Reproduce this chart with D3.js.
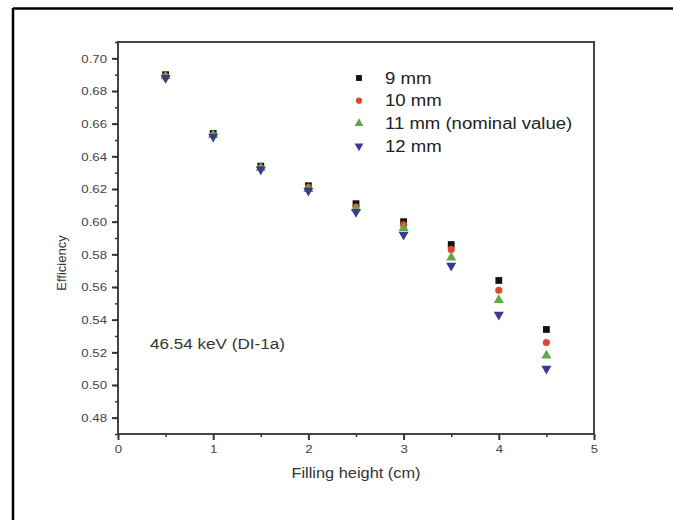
<!DOCTYPE html>
<html><head><meta charset="utf-8">
<script src="https://cdn.jsdelivr.net/npm/d3@7"></script>
<style>body{margin:0;background:#fff}svg{display:block}</style>
</head><body><svg id="c" width="673" height="520"></svg>
<script>
const xValues = [0.5, 1.0, 1.5, 2.0, 2.5, 3.0, 3.5, 4.0, 4.5];
const s9mm  = [0.690, 0.654, 0.634, 0.622, 0.611, 0.600, 0.586, 0.564, 0.534];
const s10mm = [0.689, 0.653, 0.633, 0.621, 0.609, 0.598, 0.583, 0.558, 0.526];
const s11mm = [0.689, 0.653, 0.633, 0.620, 0.608, 0.596, 0.578, 0.552, 0.518];
const s12mm = [0.688, 0.652, 0.632, 0.619, 0.606, 0.592, 0.573, 0.543, 0.510];
const seriesNames = ["9 mm", "10 mm", "11 mm (nominal value)", "12 mm"];
const xTicks = [0, 1, 2, 3, 4, 5];
const yTicks = [0.48, 0.50, 0.52, 0.54, 0.56, 0.58, 0.60, 0.62, 0.64, 0.66, 0.68, 0.70];
const annotation = "46.54 keV (DI-1a)";
const xTitle = "Filling height (cm)";
const yTitle = "Efficiency";

const series = [
  {name: seriesNames[0], values: s9mm,  color: "#111111", symbol: d3.symbolSquare, rot: 0},
  {name: seriesNames[1], values: s10mm, color: "#e2452f", symbol: d3.symbolCircle, rot: 0},
  {name: seriesNames[2], values: s11mm, color: "#5caa45", symbol: d3.symbolTriangle, rot: 0},
  {name: seriesNames[3], values: s12mm, color: "#40388f", symbol: d3.symbolTriangle, rot: 180}
];
const sizes = [46, 40, 44, 44];

const svg = d3.select("#c");
const font = "Liberation Sans, Arial, sans-serif";

// horizontally stretched text helper
function htext(parent, px, py, sx, size, anchor, str, fill) {
  return parent.append("text")
    .attr("transform", `translate(${px},${py}) scale(${sx},1)`)
    .attr("text-anchor", anchor)
    .attr("font-family", font).attr("font-size", size).attr("fill", fill).text(str);
}

// outer frame (top and left)
svg.append("line").attr("x1", 13).attr("x2", 673).attr("y1", 8.5).attr("y2", 8.5).attr("stroke", "#000").attr("stroke-width", 2.5);
svg.append("line").attr("x1", 13).attr("x2", 13).attr("y1", 8).attr("y2", 520).attr("stroke", "#000").attr("stroke-width", 2.5);

const L = 118, R = 594, T = 42, B = 434;
const x = d3.scaleLinear().domain([0, 5]).range([L, R]);
const y = d3.scaleLinear().domain([0.47, 0.71]).range([B, T]);

// plot box
svg.append("rect").attr("x", L).attr("y", T).attr("width", R - L).attr("height", B - T)
  .attr("fill", "none").attr("stroke", "#444").attr("stroke-width", 2);

// minor ticks
const yMinor = d3.range(0.47, 0.7101, 0.01).map(v => +v.toFixed(2));
svg.append("g").attr("transform", `translate(${L},0)`)
  .call(d3.axisLeft(y).tickValues(yMinor).tickSize(3).tickFormat(""))
  .call(g => g.select(".domain").remove())
  .call(g => g.selectAll("line").attr("stroke", "#333").attr("stroke-width", 1.5));
svg.append("g").attr("transform", `translate(0,${B})`)
  .call(d3.axisBottom(x).tickValues([0.5, 1.5, 2.5, 3.5, 4.5]).tickSize(3).tickFormat(""))
  .call(g => g.select(".domain").remove())
  .call(g => g.selectAll("line").attr("stroke", "#333").attr("stroke-width", 1.5));

// major ticks
const tsx = 1.15;
svg.append("g").attr("transform", `translate(${L},0)`)
  .call(d3.axisLeft(y).tickValues(yTicks).tickSize(6).tickPadding(4).tickFormat(d3.format(".2f")))
  .call(g => g.select(".domain").remove())
  .call(g => g.selectAll("line").attr("stroke", "#333").attr("stroke-width", 2))
  .call(g => g.selectAll("text").attr("font-family", font).attr("font-size", 11.5).attr("fill", "#444")
      .attr("x", -11 / tsx).attr("transform", `scale(${tsx},1)`));
svg.append("g").attr("transform", `translate(0,${B})`)
  .call(d3.axisBottom(x).tickValues(xTicks).tickSize(6).tickPadding(5).tickFormat(d3.format("d")))
  .call(g => g.select(".domain").remove())
  .call(g => g.selectAll("line").attr("stroke", "#333").attr("stroke-width", 2))
  .call(g => g.selectAll("text").attr("font-family", font).attr("font-size", 11.5).attr("fill", "#444")
      .attr("transform", `scale(${tsx},1)`));

// axis titles
htext(svg, 356, 478, 1.17, 14, "middle", xTitle, "#333");
svg.append("text").attr("transform", "translate(66,263) rotate(-90)").attr("text-anchor", "middle")
  .attr("font-family", font).attr("font-size", 13).attr("fill", "#333").text(yTitle);

// annotation
htext(svg, 150, 349, 1.14, 15, "start", annotation, "#333");

// points
series.forEach((s, i) => {
  const sym = d3.symbol().type(s.symbol).size(sizes[i]);
  svg.append("g").selectAll("path").data(s.values).join("path")
    .attr("d", sym)
    .attr("transform", (d, j) => `translate(${x(xValues[j])},${y(d)}) rotate(${s.rot})`)
    .attr("fill", s.color);
});

// legend
const lg = svg.append("g");
series.forEach((s, i) => {
  const yy = 78 + i * 22.7;
  lg.append("path").attr("d", d3.symbol().type(s.symbol).size(sizes[i] * 0.75)())
    .attr("transform", `translate(359,${yy}) rotate(${s.rot})`).attr("fill", s.color);
  htext(lg, 385, yy + 5.5, 1.16, 16, "start", s.name, "#222");
});
</script></body></html>
